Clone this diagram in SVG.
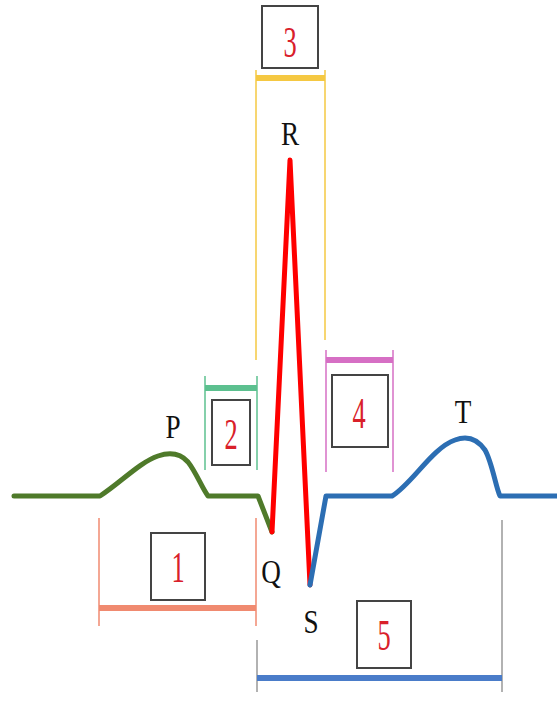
<svg xmlns="http://www.w3.org/2000/svg" width="557" height="704" viewBox="0 0 557 704">
<style>
.lbl{font-family:"Liberation Serif","DejaVu Serif",serif;font-size:34px;fill:#111;text-anchor:middle}
.num{font-family:"Liberation Serif","DejaVu Serif",serif;font-size:44px;fill:#d9202a;text-anchor:middle}
.box{fill:#fff;stroke:#444;stroke-width:2}
.wave{fill:none;stroke-width:5;stroke-linejoin:round;stroke-linecap:round}
</style>
<rect width="557" height="704" fill="#fff"/>
<g id="brackets">
<g id="b3" stroke="#f5c842">
<line x1="256" y1="70" x2="256" y2="360" stroke-width="1.5"/>
<line x1="325" y1="70" x2="325" y2="340" stroke-width="1.5"/>
<line x1="256" y1="78" x2="325" y2="78" stroke-width="6"/>
</g>
<g id="b2" stroke="#5cc08f">
<line x1="205" y1="376" x2="205" y2="470" stroke-width="1.5"/>
<line x1="257" y1="376" x2="257" y2="470" stroke-width="1.5"/>
<line x1="205" y1="388" x2="257" y2="388" stroke-width="6"/>
</g>
<g id="b4" stroke="#d66fc4">
<line x1="326" y1="350" x2="326" y2="472" stroke-width="1.5"/>
<line x1="393" y1="350" x2="393" y2="472" stroke-width="1.5"/>
<line x1="326" y1="360" x2="393" y2="360" stroke-width="6"/>
</g>
<g id="b1" stroke="#f08a70">
<line x1="99" y1="518" x2="99" y2="626" stroke-width="1.5"/>
<line x1="256" y1="518" x2="256" y2="626" stroke-width="1.5"/>
<line x1="99" y1="608" x2="256" y2="608" stroke-width="6"/>
</g>
<g id="b5" stroke="#4a7cc9">
<line x1="257" y1="640" x2="257" y2="692" stroke-width="1.5" stroke="#999"/>
<line x1="502" y1="520" x2="502" y2="692" stroke-width="1.5" stroke="#999"/>
<line x1="257" y1="678" x2="502" y2="678" stroke-width="6"/>
</g>
</g>
<g id="connectors">
<path class="wave" stroke="#4f7a2a" d="M14,496 L100,496 C120,483 140,462 158,456 C170,452 180,453 188,462 C196,472 202,488 208,496 L258,496 L272,532"/>
<path class="wave" stroke="#ff0000" d="M272,532 L290,160 L310,585"/>
<path class="wave" stroke="#2c6eb3" d="M310,585 L326,496 L392,496 C412,484 432,448 455,440 C468,435 478,440 485,450 C492,462 496,488 500,496 L557,496"/>
</g>
<g id="n3"><rect class="box" x="262" y="6" width="56" height="62"/><text class="num" transform="translate(290,57) scale(0.6,1)">3</text></g>
<g id="n2"><rect class="box" x="212" y="400" width="38" height="65"/><text class="num" transform="translate(231,449) scale(0.6,1)">2</text></g>
<g id="n4"><rect class="box" x="332" y="375" width="56" height="72"/><text class="num" transform="translate(359,428) scale(0.6,1)">4</text></g>
<g id="n1"><rect class="box" x="151" y="533" width="54" height="67"/><text class="num" transform="translate(178,582) scale(0.6,1)">1</text></g>
<g id="n5"><rect class="box" x="357" y="601" width="54" height="67"/><text class="num" transform="translate(384,650) scale(0.6,1)">5</text></g>
<g id="labels">
<text class="lbl" transform="translate(173,438) scale(0.8,1)">P</text>
<text class="lbl" transform="translate(290,145) scale(0.8,1)">R</text>
<text class="lbl" transform="translate(463,423) scale(0.8,1)">T</text>
<text class="lbl" transform="translate(271,583) scale(0.8,1)">Q</text>
<text class="lbl" transform="translate(311,633) scale(0.8,1)">S</text>
</g>
</svg>
